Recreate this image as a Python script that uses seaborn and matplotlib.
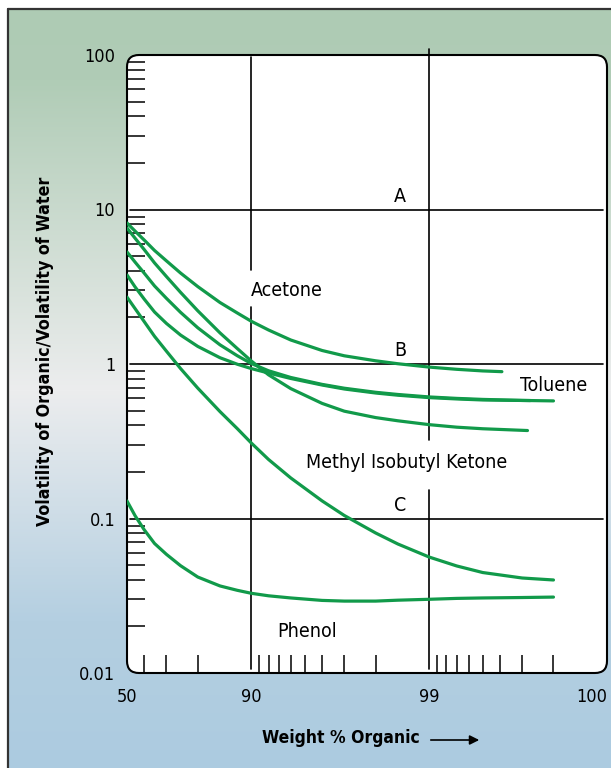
"""
Volatility of organic / volatility of water vs weight % organic.
Log y axis, -log10(100 - x) stretched x axis, saved to out.png.
"""
import numpy as np
import pandas as pd
import matplotlib
matplotlib.use("Agg")
import matplotlib.pyplot as plt
import seaborn as sns
from matplotlib.patches import FancyBboxPatch
from matplotlib.transforms import IdentityTransform
from matplotlib.ticker import LogLocator, NullFormatter


# --- data ------------------------------------------------------------
x_full = [50, 55, 60, 65, 70, 75, 80, 85, 88, 90, 92, 94, 96, 97, 98, 98.5,
          99, 99.3, 99.5, 99.7, 99.8]

acetone_x = x_full[:19] + [99.61]
acetone_y = [8.18, 7.24, 6.34, 5.43, 4.65, 3.88, 3.17, 2.50, 2.14, 1.89, 1.66, 1.43,
             1.223, 1.130, 1.049, 1.004, 0.955, 0.924, 0.902, 0.892]

mibk_x = x_full[:19] + [99.72]
mibk_y = [7.59, 6.51, 5.50, 4.51, 3.68, 2.91, 2.21, 1.59, 1.26, 1.046, 0.851, 0.693,
          0.556, 0.495, 0.450, 0.429, 0.405, 0.390, 0.381, 0.371]

toluene_x = x_full
toluene_y = [5.31, 4.56, 3.87, 3.20, 2.66, 2.16, 1.716, 1.331, 1.132, 1.007, 0.904, 0.818,
             0.738, 0.697, 0.656, 0.635, 0.612, 0.599, 0.590, 0.581, 0.577]

other_x = x_full[:19] + [99.73]
other_y = [3.77, 3.15, 2.63, 2.17, 1.83, 1.54, 1.30, 1.098, 0.997, 0.934, 0.874, 0.806,
           0.731, 0.689, 0.649, 0.628, 0.606, 0.594, 0.585, 0.580]

steep_x = x_full
steep_y = [2.71, 2.28, 1.88, 1.51, 1.21, 0.935, 0.698, 0.492, 0.382, 0.308, 0.241, 0.183,
           0.130, 0.1046, 0.0806, 0.0684, 0.0563, 0.0493, 0.0447, 0.0412, 0.0400]

phenol_x = x_full
phenol_y = [0.1298, 0.1041, 0.0845, 0.0689, 0.0586, 0.0495, 0.0418, 0.0366, 0.0343, 0.0328,
            0.0316, 0.0306, 0.0295, 0.0292, 0.0292, 0.0296, 0.0300, 0.0304, 0.0306, 0.0308, 0.0310]

x_major = [50, 90, 99, 99.9]
x_major_labels = ["50", "90", "99", "100"]
x_minor = [60, 70, 80, 91, 92, 93, 94, 95, 96, 97, 98,
           99.1, 99.2, 99.3, 99.4, 99.5, 99.6, 99.7, 99.8]
y_major = [0.01, 0.1, 1, 10, 100]
y_major_labels = ["0.01", "0.1", "1", "10", "100"]

# horizontal guide lines (A, B, C)
ref_levels = [10, 1, 0.1]
ref_names = ["A", "B", "C"]

GREEN = "#119a4a"


def fwd(x):
    return -np.log10(np.clip(100 - np.asarray(x, dtype=float), 1e-6, None))


def inv(f):
    return 100 - 10 ** (-np.asarray(f, dtype=float))


def build_frame():
    parts = []
    for name, xs, ys in [("acetone", acetone_x, acetone_y), ("mibk", mibk_x, mibk_y),
                         ("toluene", toluene_x, toluene_y), ("other", other_x, other_y),
                         ("steep", steep_x, steep_y), ("phenol", phenol_x, phenol_y)]:
        parts.append(pd.DataFrame({"wt": xs, "ratio": ys, "compound": name}))
    return pd.concat(parts, ignore_index=True)


sns.set_theme(style="white")
plt.rcParams["font.family"] = ["DejaVu Sans"]
plt.rcParams["font.stretch"] = "condensed"
plt.rcParams["text.color"] = "black"
plt.rcParams["axes.labelcolor"] = "black"

W, H = 611, 768
fig = plt.figure(figsize=(W / 100, H / 100), dpi=100, facecolor="white")

# background gradient: green -> near white -> blue
bg = fig.add_axes([0, 0, 1, 1], zorder=-5)
rows = np.arange(9, H)
stops_y = [9, 80, 390, 620, 768]
stops_c = np.array([[174, 203, 180], [176, 204, 182], [236, 237, 238],
                    [180, 207, 225], [172, 203, 224]]) / 255
grad = np.stack([np.interp(rows, stops_y, stops_c[:, i]) for i in range(3)], axis=-1)
bg.imshow(grad[:, None, :], aspect="auto", extent=[8 / W, 1, 0, (H - 9) / H])
bg.plot([8 / W, 8 / W], [0, (H - 9) / H], color="#333333", lw=1.6)
bg.plot([8 / W, 1], [(H - 9) / H, (H - 9) / H], color="#333333", lw=1.6)
bg.set_xlim(0, 1)
bg.set_ylim(0, 1)
bg.axis("off")

# rounded white plotting box
box = FancyBboxPatch((127, 95), 480, 618, boxstyle="round,pad=0,rounding_size=12",
                     transform=IdentityTransform(), fc="white", ec="black", lw=1.5, zorder=-3)
fig.add_artist(box)

ax = fig.add_axes([127 / W, 95 / H, 480 / W, 618 / H], zorder=2)
ax.patch.set_alpha(0)
for s in ax.spines.values():
    s.set_visible(False)

df = build_frame()
sns.lineplot(data=df, x="wt", y="ratio", units="compound", estimator=None,
             sort=False, color=GREEN, lw=2.3, ax=ax)

ax.set_xscale("function", functions=(fwd, inv))
ax.set_yscale("log")
ax.set_xlim(50, 99.9)
ax.set_ylim(0.01, 100)

# guide lines
for lvl in ref_levels:
    ax.axhline(lvl, xmin=0.006, xmax=0.992, color="black", lw=1.2, zorder=1)
ax.axvline(90, ymin=0.006, ymax=0.592, color="black", lw=1.2, zorder=1)
ax.axvline(90, ymin=0.652, ymax=0.997, color="black", lw=1.2, zorder=1)
ax.axvline(99, ymin=0.006, ymax=0.296, color="black", lw=1.2, zorder=1)
ax.axvline(99, ymin=0.377, ymax=1.01, color="black", lw=1.2, zorder=1, clip_on=False)

# ticks
ax.set_xticks(x_major)
ax.set_xticklabels(x_major_labels)
ax.set_xticks(x_minor, minor=True)
ax.xaxis.set_minor_formatter(NullFormatter())
ax.set_yticks(y_major)
ax.set_yticklabels(y_major_labels)
ax.yaxis.set_minor_locator(LogLocator(base=10, subs=np.arange(2, 10), numticks=20))
ax.yaxis.set_minor_formatter(NullFormatter())
ax.tick_params(axis="x", which="major", length=0, pad=11, labelsize=13, labelcolor="black")
ax.tick_params(axis="y", which="major", length=0, pad=8.5, labelsize=13, labelcolor="black")
ax.tick_params(which="minor", direction="in", length=13, width=1.1, color="black",
               bottom=True, left=True)
ax.get_xticklabels()[-1].set_ha("right")

# annotations
for name, lvl in zip(ref_names, ref_levels):
    ax.text(98.54, lvl * 1.22, name, ha="center", va="center", fontsize=14)
ax.text(90.0, 2.97, "Acetone", ha="left", va="center", fontsize=14)
ax.text(99.69, 0.731, "Toluene", ha="left", va="center", fontsize=14)
ax.text(98.66, 0.229, "Methyl Isobutyl Ketone", ha="center", va="center", fontsize=14)
ax.text(92.82, 0.0187, "Phenol", ha="left", va="center", fontsize=14)

ax.set_xlabel("Weight % Organic", fontsize=12.5, fontweight="bold")
ax.xaxis.set_label_coords(0.445, -0.105)
ax.xaxis.label.set_va("center")
ax.set_ylabel("Volatility of Organic/Volatility of Water", fontsize=12.8, fontweight="bold")
ax.yaxis.set_label_coords(-0.171, 0.52)
ax.yaxis.label.set_va("center")

ax.annotate("", xy=(482 / W, 28 / H), xytext=(428 / W, 28 / H), xycoords="figure fraction",
            textcoords="figure fraction",
            arrowprops=dict(arrowstyle="-|>", color="black", lw=1.2, mutation_scale=14))

fig.savefig("out.png", dpi=100)
